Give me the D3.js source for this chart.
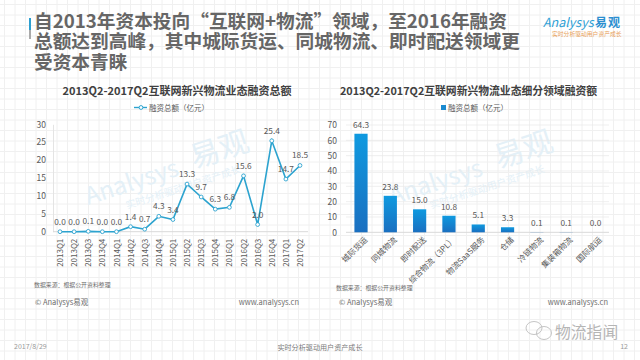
<!DOCTYPE html>
<html><head><meta charset="utf-8">
<style>html,body{margin:0;padding:0;background:#fff}svg{display:block}text{font-family:"Noto Sans CJK SC","Noto Sans",sans-serif}</style>
<script src="https://cdnjs.cloudflare.com/ajax/libs/d3/7.8.5/d3.min.js"></script>
</head><body><svg id="c" width="640" height="360"></svg>
<script>
const titleLines=["自2013年资本投向“互联网+物流”领域，至2016年融资","总额达到高峰，其中城际货运、同城物流、即时配送领域更","受资本青睐"];
const quarters=["2013Q1","2013Q2","2013Q3","2013Q4","2014Q1","2014Q2","2014Q3","2014Q4","2015Q1","2015Q2","2015Q3","2015Q4","2016Q1","2016Q2","2016Q3","2016Q4","2017Q1","2017Q2"];
const totals=[0,0,0.1,0,0,1.4,0.7,4.3,3.4,13.3,9.7,6.3,6.8,15.6,2.0,25.4,14.7,18.5];
const segments=["城际货运","同城物流","即时配送","综合物流（3PL）","物流SaaS服务","仓储","冷链物流","集装箱物流","国际航运"];
const segmentValues=[64.3,23.8,15.0,10.8,5.1,3.3,0.1,0.1,0.0];
const leftTicks=[0,5,10,15,20,25,30];
const rightTicks=[0,10,20,30,40,50,60,70];
const leftTitle="2013Q2-2017Q2互联网新兴物流业态融资总额";
const rightTitle="2013Q2-2017Q2互联网新兴物流业态细分领域融资额";
const legendLabel="融资总额（亿元）";

const svg=d3.select("#c");
const defs=svg.append("defs");
const g=defs.append("linearGradient").attr("id","bar").attr("x1",0).attr("x2",0).attr("y1",0).attr("y2",1);
g.append("stop").attr("offset",0).attr("stop-color","#0f9ae0");
g.append("stop").attr("offset",1).attr("stop-color","#1a6fc0");

// background grid
const bg=svg.append("g").attr("stroke","#f0f0f0").attr("stroke-width",1);
d3.range(4.5,640,10.5).forEach(x=>bg.append("line").attr("x1",x).attr("x2",x).attr("y1",0).attr("y2",360));
d3.range(4.5,360,10.5).forEach(y=>bg.append("line").attr("y1",y).attr("y2",y).attr("x1",0).attr("x2",640));

// watermarks
function watermark(x,y){
  const w=svg.append("g").attr("transform",`translate(${x},${y}) rotate(-18)`).attr("fill","#e4f0f7");
  w.append("text").attr("font-size",24).attr("x",0).attr("y",0).text("Analysys");
  w.append("text").attr("font-size",30).attr("x",112).attr("y",-2).text("易观");
  w.append("text").attr("font-size",10).attr("x",36).attr("y",16).text("实时分析驱动用户资产成长");
}
watermark(88,205);watermark(392,205);

// title
svg.append("rect").attr("x",29).attr("y",18).attr("width",2).attr("height",12).attr("fill","#2d9fd0");
svg.append("rect").attr("x",29).attr("y",30).attr("width",2).attr("height",9).attr("fill","#aaa");
svg.append("g").selectAll("text").data(titleLines).join("text")
  .attr("x",34).attr("y",(d,i)=>27.5+i*20.8).attr("font-size",18.7).attr("font-weight",700).attr("fill","#666").text(d=>d);

// logo
svg.append("text").attr("x",543).attr("y",27).attr("font-size",12.5).attr("fill","#2f9fd5").attr("font-style","italic").text("Analysys");
svg.append("text").attr("x",595).attr("y",27).attr("font-size",12).attr("letter-spacing",1).attr("font-weight",700).attr("fill","#2b8fd0").text("易观");
svg.append("text").attr("x",552).attr("y",35.5).attr("font-size",5.8).attr("fill","#e8a15a").text("实时分析驱动用户资产成长");

// chart titles
svg.append("text").attr("x",177).attr("y",95).attr("text-anchor","middle").attr("font-size",11).attr("font-weight",700).attr("fill","#404040").text(leftTitle);
svg.append("text").attr("x",468.5).attr("y",95).attr("text-anchor","middle").attr("font-size",10.8).attr("font-weight",700).attr("fill","#404040").text(rightTitle);

// left chart
const xL=d3.scalePoint().domain(quarters).range([60,300]);
const yL=d3.scaleLinear().domain([0,30]).range([231.7,124.3]);
const axL=svg.append("g").attr("transform","translate(53,0)").call(d3.axisLeft(yL).tickValues(leftTicks).tickSize(0).tickPadding(7));
axL.select(".domain").attr("stroke","#e4e4e4");
axL.selectAll("text").attr("font-size",8.5).attr("fill","#595959");
const axLB=svg.append("g").attr("transform","translate(0,231.7)").call(d3.axisBottom(xL).tickSize(0).tickPadding(3));
axLB.select(".domain").attr("d","M53,0H308").attr("stroke","#d9d9d9");
axLB.selectAll("text").attr("font-size",8).attr("fill","#595959").attr("text-anchor","end").attr("transform","rotate(-90)").attr("x",-7).attr("y",0).attr("dy","0.32em");
svg.append("path").datum(totals).attr("fill","none").attr("stroke","#2ca3cf").attr("stroke-width",1.6)
  .attr("d",d3.line().x((d,i)=>xL(quarters[i])).y(d=>yL(d)));
svg.append("g").selectAll("circle").data(totals).join("circle").attr("cx",(d,i)=>xL(quarters[i])).attr("cy",d=>yL(d)).attr("r",1.9).attr("fill","#fff").attr("stroke","#2ca3cf").attr("stroke-width",0.9);
svg.append("g").selectAll("text").data(totals).join("text").attr("x",(d,i)=>xL(quarters[i])).attr("y",d=>yL(d)-7).attr("text-anchor","middle").attr("font-size",8.3).attr("fill","#595959").text(d=>d.toFixed(1));
// left legend
svg.append("line").attr("x1",134).attr("x2",147).attr("y1",107.5).attr("y2",107.5).attr("stroke","#2ca3cf").attr("stroke-width",1.4);
svg.append("circle").attr("cx",141).attr("cy",107.5).attr("r",1.9).attr("fill","#fff").attr("stroke","#2ca3cf");
svg.append("text").attr("x",149).attr("y",110.5).attr("font-size",7.5).attr("fill","#595959").text(legendLabel);

// right chart
const xR=d3.scaleBand().domain(segments).range([346.5,610]).paddingInner(0.55).paddingOuter(0.27);
const yR=d3.scaleLinear().domain([0,70]).range([232.3,125]);
const axR=svg.append("g").attr("transform","translate(342,0)").call(d3.axisLeft(yR).tickValues(rightTicks).tickSize(0).tickPadding(5));
axR.select(".domain").remove();
axR.selectAll("text").attr("font-size",8.5).attr("fill","#595959");
svg.append("g").selectAll("line").data(rightTicks.slice(1)).join("line").attr("x1",346).attr("x2",609).attr("y1",d=>yR(d)).attr("y2",d=>yR(d)).attr("stroke","#e8e8e8").attr("stroke-width",0.7);
const axRB=svg.append("g").attr("transform","translate(0,232.3)").call(d3.axisBottom(xR).tickSize(0).tickPadding(3));
axRB.select(".domain").attr("d","M346,0H609").attr("stroke","#d9d9d9");
axRB.selectAll("text").attr("font-size",8).attr("fill","#595959").attr("text-anchor","end").attr("y",0).attr("dy","0.7em").attr("transform","translate(3,4) rotate(-45)");
svg.append("g").selectAll("rect").data(segmentValues).join("rect").attr("x",(d,i)=>xR(segments[i])).attr("width",xR.bandwidth()).attr("y",d=>yR(d)).attr("height",d=>yR(0)-yR(d)).attr("fill","url(#bar)");
svg.append("g").selectAll("text").data(segmentValues).join("text").attr("x",(d,i)=>xR(segments[i])+xR.bandwidth()/2).attr("y",d=>yR(d)-6).attr("text-anchor","middle").attr("font-size",8.3).attr("fill","#595959").text(d=>d.toFixed(1));
svg.append("rect").attr("x",441).attr("y",105).attr("width",5).attr("height",5).attr("fill","#1a8ad0");
svg.append("text").attr("x",448).attr("y",110.5).attr("font-size",7.5).attr("fill","#595959").text(legendLabel);

// footers
const small=(x,y,s,t,a,c)=>svg.append("text").attr("x",x).attr("y",y).attr("font-size",s).attr("fill",c||"#6e6e6e").attr("text-anchor",a||"start").text(t);
small(34,287,5.9,"数据来源：根据公开资料整理");
small(336,290,5.9,"数据来源：根据公开资料整理");
small(35,305,7.5,"© Analysys易观");
small(339,305,7.5,"© Analysys易观");
small(299,305,7.5,"www.analysys.cn","end");
small(608,305,7.5,"www.analysys.cn","end");
small(14,349,7,"2017/8/29",null,"#999");
small(320,350,7.1,"实时分析驱动用户资产成长","middle","#7a7a7a");
small(628,349,7,"12","end","#999");

// wechat mark
const wm=svg.append("g").attr("fill","none").attr("stroke","#bdbdbd").attr("stroke-width",0.9);
wm.append("ellipse").attr("cx",534).attr("cy",328).attr("rx",8).attr("ry",6.5);
wm.append("ellipse").attr("cx",544).attr("cy",333).attr("rx",7.5).attr("ry",6.5);
svg.append("text").attr("x",555).attr("y",338).attr("font-size",15.8).attr("fill","#b5b5b5").text("物流指闻");
</script></body></html>
